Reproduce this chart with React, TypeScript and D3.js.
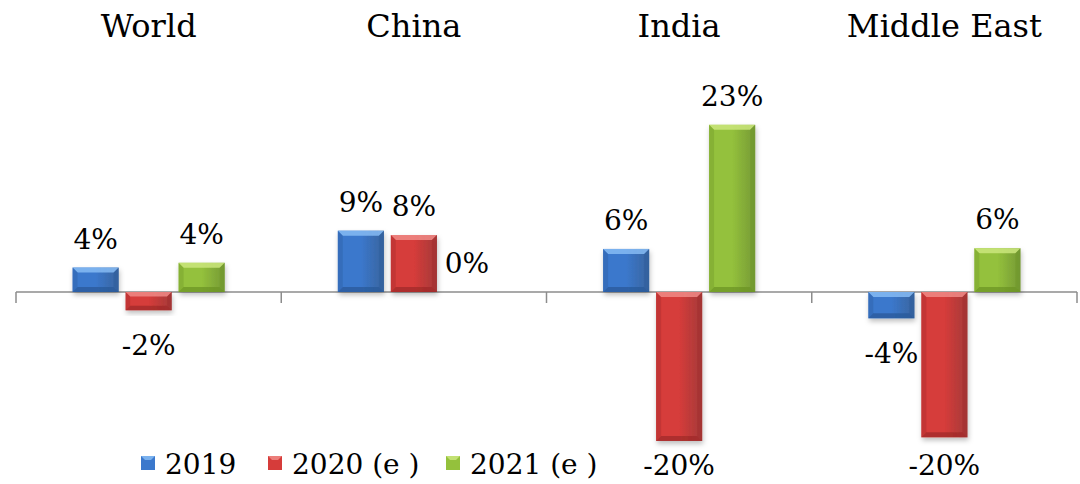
import React from "react";
import * as d3 from "d3";

// ---- data ----
const groups = ["World", "China", "India", "Middle East"];
const series = ["2019", "2020 (e )", "2021 (e )"];
const values2019 = [3.35, 8.4, 5.9, -3.6];
const values2020 = [-2.5, 7.8, -20.4, -19.9];
const values2021 = [4.0, 0, 22.9, 6.0];
const labels2019 = ["4%", "9%", "6%", "-4%"];
const labels2020 = ["-2%", "8%", "-20%", "-20%"];
const labels2021 = ["4%", "0%", "23%", "6%"];

const seriesValues = [values2019, values2020, values2021];
const seriesLabels = [labels2019, labels2020, labels2021];

// ---- style ----
const W = 1080;
const H = 484;
const FONT = "'DejaVu Serif', serif";
const palette = [
  { light: "#86bbf3", main: "#3b78cc", dark: "#2a5a9a" },
  { light: "#f08a86", main: "#d63c3a", dark: "#a02b2a" },
  { light: "#cbe67c", main: "#94c13c", dark: "#6c9426" },
];
const LEGEND_X = [141, 268, 446];

function Bar({ x, y, w, h, c, id }: any) {
  const b = Math.min(5, h / 4);
  const top = y;
  const bot = y + h;
  return (
    <g filter="url(#shadow)">
      <rect x={x} y={y} width={w} height={h} fill={`url(#hg${id})`} />
      <polygon
        points={`${x},${top} ${x + w},${top} ${x + w - b},${top + b} ${x + b},${top + b}`}
        fill={c.light}
        opacity={0.85}
      />
      <polygon
        points={`${x},${bot} ${x + w},${bot} ${x + w - b},${bot - b} ${x + b},${bot - b}`}
        fill={c.dark}
        opacity={0.75}
      />
      <polygon
        points={`${x},${top} ${x + b},${top + b} ${x + b},${bot - b} ${x},${bot}`}
        fill={c.dark}
        opacity={0.35}
      />
      <polygon
        points={`${x + w},${top} ${x + w - b},${top + b} ${x + w - b},${bot - b} ${x + w},${bot}`}
        fill={c.dark}
        opacity={0.45}
      />
    </g>
  );
}

export default function App() {
  const x0 = d3.scaleBand<string>().domain(groups).range([16, 1077]);
  const x1 = d3
    .scaleBand<string>()
    .domain(series)
    .range([0, x0.bandwidth()])
    .paddingInner(0.13)
    .paddingOuter(1.067);
  const y = d3.scaleLinear().domain([-25, 25]).range([292 + 25 * 7.3, 292 - 25 * 7.3]);
  const y0 = y(0);

  const ticks = groups.map((g) => x0(g)!).concat([x0.range()[1]]);

  return (
    <svg
      width={W}
      height={H}
      style={{ position: "absolute", left: 0, top: 0, background: "#fff" }}
      fontFamily={FONT}
    >
      <defs>
        <filter id="shadow" x="-30%" y="-30%" width="160%" height="160%">
          <feDropShadow dx="1" dy="3" stdDeviation="2.5" floodColor="#000" floodOpacity="0.25" />
        </filter>
        {palette.map((c, i) => (
          <linearGradient key={i} id={`hg${i}`} x1="0" x2="1" y1="0" y2="0">
            <stop offset="0" stopColor={c.main} />
            <stop offset="0.5" stopColor={c.main} />
            <stop offset="1" stopColor={c.dark} stopOpacity="0.9" />
          </linearGradient>
        ))}
      </defs>

      {/* group titles */}
      {groups.map((g) => (
        <text
          key={g}
          x={x0(g)! + x0.bandwidth() / 2}
          y={37}
          textAnchor="middle"
          fontSize={32}
          fill="#000"
        >
          {g}
        </text>
      ))}

      {/* axis */}
      <line x1={x0.range()[0]} x2={x0.range()[1]} y1={y0} y2={y0} stroke="#8c8c8c" strokeWidth={1.5} />
      {ticks.map((t, i) => (
        <line key={i} x1={t} x2={t} y1={y0} y2={y0 + 11} stroke="#8c8c8c" strokeWidth={1.5} />
      ))}

      {/* bars */}
      {groups.map((g, gi) =>
        series.map((s, si) => {
          const v = seriesValues[si][gi];
          if (v === 0) return null;
          const bx = x0(g)! + x1(s)!;
          const top = Math.min(y(v), y0);
          const h = Math.abs(y(v) - y0);
          return <Bar key={g + s} x={bx} y={top} w={x1.bandwidth()} h={h} c={palette[si]} id={si} />;
        })
      )}

      {/* labels */}
      {groups.map((g, gi) =>
        series.map((s, si) => {
          const v = seriesValues[si][gi];
          const cx = x0(g)! + x1(s)! + x1.bandwidth() / 2;
          const ly = v >= 0 ? y(v) - 19 : Math.min(y(v) + 45, H - 9);
          return (
            <text key={"l" + g + s} x={cx} y={ly} textAnchor="middle" fontSize={28} fill="#000">
              {seriesLabels[si][gi]}
            </text>
          );
        })
      )}

      {/* legend */}
      {series.map((s, si) => (
        <g key={"lg" + s}>
          <rect x={LEGEND_X[si]} y={456} width={14} height={14} fill={palette[si].main} />
          <polygon
            points={`${LEGEND_X[si]},456 ${LEGEND_X[si] + 14},456 ${LEGEND_X[si] + 10},460 ${LEGEND_X[si] + 4},460`}
            fill={palette[si].light}
            opacity={0.85}
          />
          <text x={LEGEND_X[si] + 24} y={474} fontSize={28} fill="#000">
            {s}
          </text>
        </g>
      ))}
    </svg>
  );
}
